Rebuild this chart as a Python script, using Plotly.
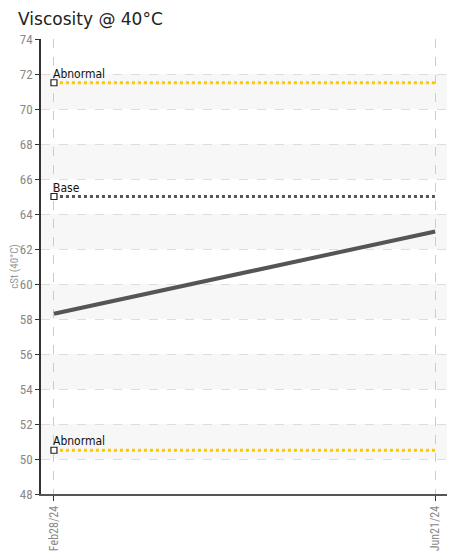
import plotly.graph_objects as go

dates = ["Feb28/24", "Jun21/24"]
viscosity = [58.3, 63.0]
abnormal_high = [71.5, 71.5]
base = [65.0, 65.0]
abnormal_low = [50.5, 50.5]
bands = [(50, 52), (54, 56), (58, 60), (62, 64), (66, 68), (70, 72)]
yticks = list(range(48, 75, 2))

xs = [0, 1]
fig = go.Figure()

for lo, hi in bands:
    fig.add_hrect(y0=lo, y1=hi, fillcolor="#f7f7f7", line_width=0, layer="below")

for vals, color, label in [(abnormal_high, "#ffc800", "Abnormal"),
                           (base, "#555555", "Base"),
                           (abnormal_low, "#ffc800", "Abnormal")]:
    fig.add_trace(go.Scatter(x=xs, y=vals, mode="lines",
                             line=dict(color=color, width=3, dash="dot")))
    fig.add_trace(go.Scatter(x=[xs[0]], y=[vals[0]], mode="markers",
                             marker=dict(symbol="square", size=6, color="white",
                                         line=dict(color="#222", width=1.2))))
    fig.add_annotation(x=xs[0], y=vals[0], text=label, showarrow=False,
                       xanchor="left", yanchor="bottom", xshift=-3, yshift=0,
                       font=dict(size=12, color="#111", family="DejaVu Sans Condensed, Roboto"))

fig.add_trace(go.Scatter(x=xs, y=viscosity, mode="lines",
                         line=dict(color="#555555", width=4)))

fig.update_layout(
    width=459, height=548, showlegend=False,
    plot_bgcolor="white", paper_bgcolor="white",
    margin=dict(l=33, r=20, t=31, b=62, autoexpand=False),
    title=dict(text="Viscosity @ 40°C", x=0.022, xanchor="left", y=0.99, yanchor="top",
               font=dict(size=17, color="#222", family="DejaVu Sans")),
    font=dict(family="Roboto Condensed, DejaVu Sans Condensed, Roboto", color="#888"),
)
fig.update_xaxes(range=[-0.034, 1.031], tickvals=xs, ticktext=dates, tickangle=-90,
                 showgrid=True, gridcolor="#cccccc", griddash="dash",
                 showline=True, linecolor="#555", linewidth=2, automargin=False,
                 ticks="outside", ticklen=5, tickcolor="#333",
                 tickfont=dict(size=12, color="#888"), zeroline=False)
fig.update_yaxes(range=[48, 74], tickvals=yticks, showgrid=True, gridcolor="#dddddd",
                 griddash="dash", showline=True, linecolor="#333", linewidth=1.5,
                 ticks="outside", ticklen=4, tickcolor="#333", automargin=False,
                 tickfont=dict(size=13, color="#888"), zeroline=False,
                 title=dict(text="cSt (40°C)", font=dict(size=11, color="#999"), standoff=2))

fig.write_html("out.html")
